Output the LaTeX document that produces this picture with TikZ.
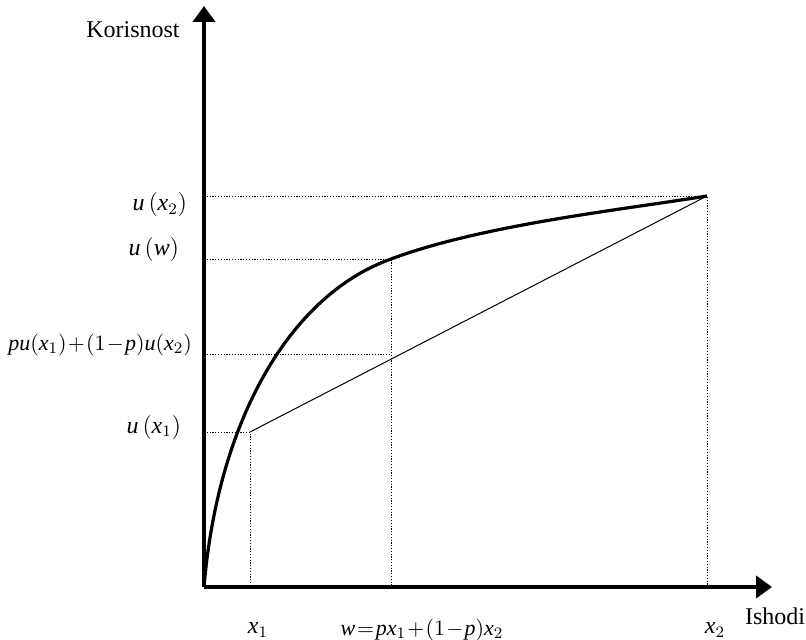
\documentclass[tikz,border=0pt]{standalone}
\usepackage{fontspec}
\setmainfont{Liberation Serif}
\DeclareSymbolFont{letters}{TU}{\rmdefault}{m}{it}
\DeclareSymbolFont{operators}{TU}{\rmdefault}{m}{n}
\usetikzlibrary{arrows.meta}

\begin{document}
\begin{tikzpicture}[x=0.5pt,y=-0.5pt,font=\fontsize{12}{14}\selectfont,
  axis/.style={line width=2pt,-{Triangle[length=8pt,width=11pt]}},
  guide/.style={line width=0.4pt,dash pattern=on 0.6pt off 0.8pt},
  chord/.style={line width=0.5pt},
  utility/.style={line width=1.6pt,line join=round},
  tight/.style={font=\fontsize{11}{13}\selectfont,
    execute at begin node={\medmuskip=1mu\thickmuskip=1.5mu}}]
  \useasboundingbox (0,0) rectangle (806,640);
  % axes
  \coordinate (O) at (204,587);
  \coordinate (ytop) at (204,6);
  \coordinate (xend) at (772,587);
  % points on the axes
  \coordinate (ax1) at (250,587);
  \coordinate (aw) at (391,587);
  \coordinate (ax2) at (707,587);
  \coordinate (aux2) at (204,196);
  \coordinate (auw) at (204,259);
  \coordinate (aup) at (204,354);
  \coordinate (aux1) at (204,432);
  % points of the curve and of the chord
  \coordinate (P1) at (250,432);
  \coordinate (PW) at (391,259);
  \coordinate (PC) at (391,354);
  \coordinate (P2) at (707,196);

  \draw[guide] (aux2) -- (P2) -- (ax2);
  \draw[guide] (auw) -- (PW) -- (aw);
  \draw[guide] (aup) -- (PC);
  \draw[guide] (aux1) -- (P1) -- (ax1);

  \draw[chord] (P1) -- (P2);
  \draw[utility] (O) .. controls (218,420) and (290,295) .. (PW)
    .. controls (482,225) and (620,210) .. (P2);

  \draw[axis] (O) -- (ytop);
  \draw[axis] (O) -- (xend);

  \node (korisnost) at (133,30) {Korisnost};
  \node (ishodi) at (775,616) {Ishodi};
  \node[anchor=east] (lux2) at (194,205) {$u\,(x_2)$};
  \node[anchor=east] (luw) at (186,250) {$u\,(w)$};
  \node[anchor=east,tight] (lup) at (199,345) {$pu(x_1)+(1-p)u(x_2)$};
  \node[anchor=east] (lux1) at (188,427) {$u\,(x_1)$};
  \node (lx1) at (258,630) {$x_1$};
  \node[tight] (lw) at (422,630) {$w=px_1+(1-p)x_2$};
  \node (lx2) at (715,630) {$x_2$};
\end{tikzpicture}
\end{document}
